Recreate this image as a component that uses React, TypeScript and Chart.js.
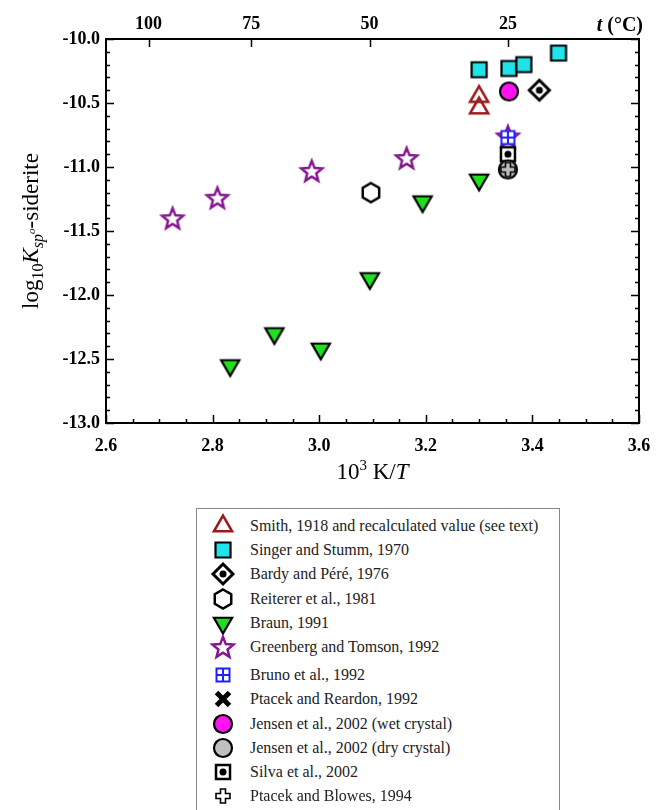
import React, { useEffect, useRef, useMemo } from "react";
import { Chart, registerables } from "chart.js";

Chart.register(...registerables);

// ---------------- data ----------------
const smithX = [3.3, 3.3];
const smithY = [-10.45, -10.54];
const singerX = [3.3, 3.356, 3.384, 3.449];
const singerY = [-10.24, -10.23, -10.2, -10.11];
const bardyX = [3.413];
const bardyY = [-10.4];
const reitererX = [3.097];
const reitererY = [-11.2];
const braunX = [2.833, 2.916, 3.003, 3.095, 3.194, 3.3];
const braunY = [-12.55, -12.3, -12.42, -11.87, -11.27, -11.1];
const greenbergX = [2.725, 2.809, 2.986, 3.164, 3.354];
const greenbergY = [-11.4, -11.24, -11.03, -10.93, -10.76];
const brunoX = [3.354];
const brunoY = [-10.77];
const ptacekReardonX = [3.354];
const ptacekReardonY = [-10.96];
const jensenWetX = [3.356];
const jensenWetY = [-10.41];
const jensenDryX = [3.354];
const jensenDryY = [-11.02];
const silvaX = [3.354];
const silvaY = [-10.9];
const ptacekBlowesX = [3.354];
const ptacekBlowesY = [-11.02];

const seriesLabels = [
  "Smith, 1918 and recalculated value (see text)",
  "Singer and Stumm, 1970",
  "Bardy and Péré, 1976",
  "Reiterer et al., 1981",
  "Braun, 1991",
  "Greenberg and Tomson, 1992",
  "Bruno et al., 1992",
  "Ptacek and Reardon, 1992",
  "Jensen et al., 2002 (wet crystal)",
  "Jensen et al., 2002 (dry crystal)",
  "Silva et al., 2002",
  "Ptacek and Blowes, 1994",
];

const xTickValues = [2.6, 2.8, 3.0, 3.2, 3.4, 3.6];
const yTickValues = [-13.0, -12.5, -12.0, -11.5, -11.0, -10.5, -10.0];
const topTempLabels = [100, 75, 50, 25];

const SERIF = "'Liberation Serif', 'Times New Roman', serif";

Chart.defaults.font.family = SERIF;
Chart.defaults.font.size = 18;
Chart.defaults.font.weight = "bold" as any;
Chart.defaults.color = "#000";

type Kind =
  | "triUp"
  | "square"
  | "diamondDot"
  | "hexagon"
  | "triDown"
  | "star"
  | "boxCross"
  | "xMark"
  | "circleMagenta"
  | "circleGrey"
  | "squareDot"
  | "plusOutline";

const seriesX = [smithX, singerX, bardyX, reitererX, braunX, greenbergX, brunoX, ptacekReardonX, jensenWetX, jensenDryX, silvaX, ptacekBlowesX];
const seriesY = [smithY, singerY, bardyY, reitererY, braunY, greenbergY, brunoY, ptacekReardonY, jensenWetY, jensenDryY, silvaY, ptacekBlowesY];
const seriesKinds: Kind[] = ["triUp", "square", "diamondDot", "hexagon", "triDown", "star", "boxCross", "xMark", "circleMagenta", "circleGrey", "squareDot", "plusOutline"];
const seriesOrder = [5, 5, 5, 5, 5, 12, 10, 9, 5, 7, 8, 6];

function drawMarker(ctx: CanvasRenderingContext2D, kind: Kind, x: number, y: number) {
  ctx.save();
  ctx.lineJoin = "miter";
  ctx.miterLimit = 10;
  const poly = (pts: number[][]) => {
    ctx.beginPath();
    pts.forEach((p, i) => (i ? ctx.lineTo(p[0], p[1]) : ctx.moveTo(p[0], p[1])));
    ctx.closePath();
  };
  switch (kind) {
    case "triUp": {
      const r = 10.5;
      const s = Math.sin((2 * Math.PI) / 3) * r;
      poly([[x, y - r], [x + s, y + r / 2], [x - s, y + r / 2]]);
      ctx.lineWidth = 2.5;
      ctx.strokeStyle = "#9a1b1b";
      ctx.stroke();
      break;
    }
    case "triDown": {
      const r = 10.5;
      const s = Math.sin((2 * Math.PI) / 3) * r;
      poly([[x, y + r], [x + s, y - r / 2], [x - s, y - r / 2]]);
      ctx.fillStyle = "#1fe01f";
      ctx.fill();
      ctx.lineWidth = 2.2;
      ctx.strokeStyle = "#000";
      ctx.stroke();
      break;
    }
    case "square": {
      ctx.beginPath();
      ctx.rect(x - 7.5, y - 7.5, 15, 15);
      ctx.fillStyle = "#1fe3e8";
      ctx.fill();
      ctx.lineWidth = 2.2;
      ctx.strokeStyle = "#000";
      ctx.stroke();
      break;
    }
    case "diamondDot": {
      const r = 10;
      poly([[x, y - r], [x + r, y], [x, y + r], [x - r, y]]);
      ctx.fillStyle = "#fff";
      ctx.fill();
      ctx.lineWidth = 3;
      ctx.strokeStyle = "#000";
      ctx.stroke();
      ctx.beginPath();
      ctx.arc(x, y, 3.5, 0, Math.PI * 2);
      ctx.fillStyle = "#000";
      ctx.fill();
      break;
    }
    case "hexagon": {
      const R = 9.5;
      const pts: number[][] = [];
      for (let k = 0; k < 6; k++) {
        const a = -Math.PI / 2 + (k * Math.PI) / 3;
        pts.push([x + R * Math.cos(a), y + R * Math.sin(a)]);
      }
      poly(pts);
      ctx.fillStyle = "#fff";
      ctx.fill();
      ctx.lineWidth = 2.5;
      ctx.strokeStyle = "#000";
      ctx.stroke();
      break;
    }
    case "star": {
      const R = 11;
      const r = 4.8;
      const pts: number[][] = [];
      for (let k = 0; k < 10; k++) {
        const a = -Math.PI / 2 + (k * Math.PI) / 5;
        const rr = k % 2 ? r : R;
        pts.push([x + rr * Math.cos(a), y + rr * Math.sin(a) + 1]);
      }
      poly(pts);
      ctx.fillStyle = "#fff";
      ctx.fill();
      ctx.lineWidth = 2.5;
      ctx.strokeStyle = "#85168f";
      ctx.stroke();
      break;
    }
    case "boxCross": {
      ctx.beginPath();
      ctx.rect(x - 6.5, y - 6.5, 13, 13);
      ctx.fillStyle = "#fff";
      ctx.fill();
      ctx.moveTo(x - 6.5, y);
      ctx.lineTo(x + 6.5, y);
      ctx.moveTo(x, y - 6.5);
      ctx.lineTo(x, y + 6.5);
      ctx.lineWidth = 2;
      ctx.strokeStyle = "#2020ff";
      ctx.stroke();
      break;
    }
    case "xMark": {
      ctx.beginPath();
      ctx.moveTo(x - 6.5, y - 6.5);
      ctx.lineTo(x + 6.5, y + 6.5);
      ctx.moveTo(x + 6.5, y - 6.5);
      ctx.lineTo(x - 6.5, y + 6.5);
      ctx.lineWidth = 5;
      ctx.strokeStyle = "#000";
      ctx.stroke();
      break;
    }
    case "circleMagenta":
    case "circleGrey": {
      ctx.beginPath();
      ctx.arc(x, y, 9, 0, Math.PI * 2);
      ctx.fillStyle = kind === "circleMagenta" ? "#ff14f0" : "#c0c0c0";
      ctx.fill();
      ctx.lineWidth = 2.2;
      ctx.strokeStyle = "#000";
      ctx.stroke();
      break;
    }
    case "squareDot": {
      ctx.beginPath();
      ctx.rect(x - 7, y - 7, 14, 14);
      ctx.fillStyle = "#fff";
      ctx.fill();
      ctx.lineWidth = 2.5;
      ctx.strokeStyle = "#000";
      ctx.stroke();
      ctx.beginPath();
      ctx.arc(x, y, 3.5, 0, Math.PI * 2);
      ctx.fillStyle = "#000";
      ctx.fill();
      break;
    }
    case "plusOutline": {
      const w = 2.5;
      const L = 7;
      poly([
        [x - w, y - L], [x + w, y - L], [x + w, y - w], [x + L, y - w], [x + L, y + w], [x + w, y + w],
        [x + w, y + L], [x - w, y + L], [x - w, y + w], [x - L, y + w], [x - L, y - w], [x - w, y - w],
      ]);
      ctx.lineWidth = 1.6;
      ctx.strokeStyle = "#000";
      ctx.stroke();
      break;
    }
  }
  ctx.restore();
}

function makeMarker(kind: Kind): HTMLCanvasElement {
  const c = document.createElement("canvas");
  c.width = 32;
  c.height = 32;
  const ctx = c.getContext("2d")!;
  drawMarker(ctx, kind, 16, 16);
  return c;
}

type Seg = { t: string; f: string; dy: number };

function drawSegs(ctx: CanvasRenderingContext2D, segs: Seg[], cx: number, baseline: number) {
  let total = 0;
  const widths = segs.map((s) => {
    ctx.font = s.f;
    const w = ctx.measureText(s.t).width;
    total += w;
    return w;
  });
  let x = cx - total / 2;
  segs.forEach((s, i) => {
    ctx.font = s.f;
    ctx.fillText(s.t, x, baseline + s.dy);
    x += widths[i];
  });
}

const decorPlugin = {
  id: "decor",
  afterDatasetsDraw(chart: any) {
    const { ctx, chartArea: a, scales } = chart;
    const xs = scales.x;
    const ys = scales.y;
    const x2 = scales.x2;
    ctx.save();
    ctx.strokeStyle = "#000";
    ctx.lineWidth = 1.5;
    ctx.beginPath();
    const yMin = yTickValues[0];
    for (let k = 0; k <= 30; k++) {
      const v = yMin + k * 0.1;
      const p = Math.round(ys.getPixelForValue(v)) + 0.5;
      const len = k % 5 === 0 ? 8 : 4;
      ctx.moveTo(a.left, p);
      ctx.lineTo(a.left + len, p);
      ctx.moveTo(a.right, p);
      ctx.lineTo(a.right - len, p);
    }
    const xMin = xTickValues[0];
    for (let k = 0; k <= 20; k++) {
      const v = xMin + k * 0.05;
      const p = Math.round(xs.getPixelForValue(v)) + 0.5;
      const len = k % 4 === 0 ? 8 : 4;
      ctx.moveTo(p, a.bottom);
      ctx.lineTo(p, a.bottom - len);
    }
    topTempLabels.forEach((t) => {
      const p = Math.round(x2.getPixelForValue(1000 / (t + 273.15))) + 0.5;
      ctx.moveTo(p, a.top);
      ctx.lineTo(p, a.top + 8);
    });
    ctx.stroke();
    ctx.lineWidth = 2;
    ctx.strokeRect(a.left, a.top, a.right - a.left, a.bottom - a.top);

    ctx.fillStyle = "#000";
    ctx.textAlign = "left";
    ctx.textBaseline = "alphabetic";
    // x title
    drawSegs(
      ctx,
      [
        { t: "10", f: `23px ${SERIF}`, dy: 0 },
        { t: "3", f: `15px ${SERIF}`, dy: -9 },
        { t: " K/", f: `23px ${SERIF}`, dy: 0 },
        { t: "T", f: `italic 23px ${SERIF}`, dy: 0 },
      ],
      (a.left + a.right) / 2,
      a.bottom + 56
    );
    // t (°C)
    const tf1 = `italic bold 20px ${SERIF}`;
    const tf2 = `bold 20px ${SERIF}`;
    ctx.font = tf2;
    const w2 = ctx.measureText(" (°C)").width;
    ctx.font = tf1;
    const w1 = ctx.measureText("t").width;
    const right = a.right + 4;
    ctx.fillText("t", right - w1 - w2, 31);
    ctx.font = tf2;
    ctx.fillText(" (°C)", right - w2, 31);
    // y title
    ctx.translate(30, (a.top + a.bottom) / 2);
    ctx.rotate(-Math.PI / 2);
    drawSegs(
      ctx,
      [
        { t: "log", f: `23px ${SERIF}`, dy: 0 },
        { t: "10", f: `16px ${SERIF}`, dy: 5 },
        { t: "K", f: `italic 23px ${SERIF}`, dy: 0 },
        { t: "sp", f: `italic 16px ${SERIF}`, dy: 5 },
        { t: "o", f: `italic 11px ${SERIF}`, dy: -3 },
        { t: "-siderite", f: `23px ${SERIF}`, dy: 0 },
      ],
      0,
      8
    );
    ctx.restore();
  },
};

function LegendBox() {
  const urls = useMemo(() => seriesKinds.map((k) => makeMarker(k).toDataURL()), []);
  return (
    <div
      style={{
        position: "fixed",
        left: 196,
        top: 508,
        width: 364,
        height: 302,
        borderTop: "1.5px solid #888",
        borderLeft: "1.5px solid #888",
        borderRight: "1.5px solid #888",
        boxSizing: "border-box",
        background: "#fff",
      }}
    >
      {seriesLabels.map((label, i) => {
        const cy = 17 + i * 24.2 + (i >= 6 ? 4 : 0);
        return (
          <div key={label} style={{ position: "absolute", left: 0, top: cy - 12, height: 24, width: "100%" }}>
            <img src={urls[i]} width={32} height={32} style={{ position: "absolute", left: 10, top: -4 }} />
            <span
              style={{
                position: "absolute",
                left: 53,
                top: 0,
                lineHeight: "24px",
                fontFamily: SERIF,
                fontSize: 16,
                color: "#222",
                whiteSpace: "nowrap",
              }}
            >
              {label}
            </span>
          </div>
        );
      })}
    </div>
  );
}

const tickFont = { family: SERIF, size: 18, weight: "bold" };

export default function App() {
  const ref = useRef<HTMLCanvasElement | null>(null);
  useEffect(() => {
    const canvas = ref.current!;
    const datasets = seriesLabels.map((label, i) => ({
      label,
      data: seriesX[i].map((x, j) => ({ x, y: seriesY[i][j] })),
      pointStyle: makeMarker(seriesKinds[i]),
      pointRadius: 11,
      showLine: false,
      order: seriesOrder[i],
      xAxisID: "x",
      yAxisID: "y",
    }));
    const chart = new Chart(canvas, {
      type: "scatter",
      data: { datasets },
      plugins: [decorPlugin],
      options: {
        animation: false,
        responsive: false,
        maintainAspectRatio: false,
        font: tickFont,
        layout: { padding: { left: 0, right: 29, top: 0, bottom: 0 } },
        plugins: { legend: { display: false }, tooltip: { enabled: false }, title: { display: false } },
        scales: {
          x: {
            type: "linear",
            position: "bottom",
            min: xTickValues[0],
            max: xTickValues[xTickValues.length - 1],
            afterBuildTicks: (s: any) => {
              s.ticks = xTickValues.map((v) => ({ value: v }));
            },
            afterFit: (s: any) => {
              s.height = 77;
            },
            grid: { display: false, drawTicks: false },
            border: { display: false },
            ticks: {
              padding: 13,
              maxRotation: 0,
              autoSkip: false,
              color: "#000",
              font: tickFont,
              callback: (v: any) => Number(v).toFixed(1),
            },
          },
          x2: {
            type: "linear",
            position: "top",
            min: xTickValues[0],
            max: xTickValues[xTickValues.length - 1],
            afterBuildTicks: (s: any) => {
              s.ticks = topTempLabels.map((t) => ({ value: 1000 / (t + 273.15) }));
            },
            afterFit: (s: any) => {
              s.height = 39;
            },
            grid: { display: false, drawTicks: false },
            border: { display: false },
            ticks: {
              padding: 4,
              maxRotation: 0,
              autoSkip: false,
              color: "#000",
              font: tickFont,
              callback: (_v: any, i: number) => String(topTempLabels[i]),
            },
          },
          y: {
            type: "linear",
            position: "left",
            min: yTickValues[0],
            max: yTickValues[yTickValues.length - 1],
            afterBuildTicks: (s: any) => {
              s.ticks = yTickValues.map((v) => ({ value: v }));
            },
            afterFit: (s: any) => {
              s.width = 106;
            },
            grid: { display: false, drawTicks: false },
            border: { display: false },
            ticks: {
              padding: 6,
              autoSkip: false,
              color: "#000",
              font: tickFont,
              callback: (v: any) => Number(v).toFixed(1),
            },
          },
        },
      } as any,
    });
    return () => chart.destroy();
  }, []);
  return (
    <div>
      <canvas ref={ref} width={668} height={500} style={{ position: "fixed", left: 0, top: 0, width: 668, height: 500 }} />
      <LegendBox />
    </div>
  );
}
